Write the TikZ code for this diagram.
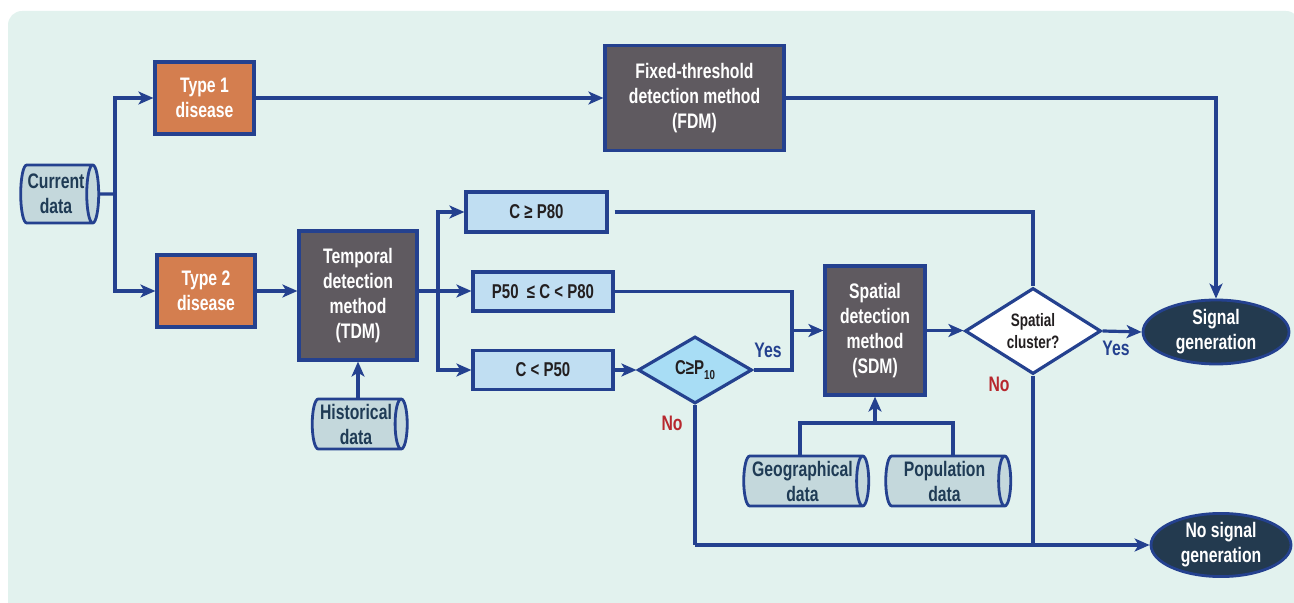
\documentclass[tikz,border=0pt]{standalone}
\usepackage{fontspec}
\setmainfont{Liberation Sans}[FakeStretch=0.75]
\usetikzlibrary{shapes.geometric,arrows.meta}
\definecolor{panel}{HTML}{E2F2EE}
\definecolor{navy}{HTML}{24418F}
\definecolor{orangebox}{HTML}{D47E4F}
\definecolor{greybox}{HTML}{5F5A60}
\definecolor{lightbox}{HTML}{C0DEF2}
\definecolor{dfill}{HTML}{A8DDF5}
\definecolor{cylfill}{HTML}{C4D8DC}
\definecolor{cyltext}{HTML}{1F3B55}
\definecolor{ellfill}{HTML}{233A4F}
\definecolor{notext}{HTML}{B7282E}
\definecolor{darktext}{HTML}{231F20}
\begin{document}
\begin{tikzpicture}[x=0.5pt,y=-0.5pt,
  every node/.style={font=\bfseries\fontsize{10.5}{12.5}\selectfont, inner sep=0pt, align=center},
  conn/.style={draw=navy, line width=1.6pt},
  arr/.style={conn, -{Stealth[length=7.5pt,width=6.5pt,inset=2pt]}},
  obox/.style={rectangle, draw=navy, line width=1.6pt, fill=orangebox, text=white},
  gbox/.style={rectangle, draw=navy, line width=1.6pt, fill=greybox, text=white},
  lbox/.style={rectangle, draw=navy, line width=1.6pt, fill=lightbox, text=darktext, font=\bfseries\fontsize{10}{12}\selectfont},
  cyl/.style={cylinder, shape border rotate=0, shape aspect=0.3, draw=navy, line width=1.4pt, fill=cylfill, text=cyltext},
  dia/.style={diamond, draw=navy, line width=1.6pt, text=darktext},
  ell/.style={ellipse, draw=navy, line width=1.4pt, fill=ellfill, text=white},
  yeslbl/.style={text=navy},
  nolbl/.style={text=notext}
]
\useasboundingbox (0,0) rectangle (1294,603);
\fill[panel] (8,610) {[rounded corners=7pt] -- (8,11) -- (1300,11)} -- (1300,610) -- cycle;

% nodes
\node[cyl, minimum height=39pt, minimum width=29pt] (cur) at (56,194) {Current\\data};
\node[obox, minimum width=49.5pt, minimum height=36pt] (t1) at (204.5,98) {Type 1\\disease};
\node[obox, minimum width=49pt, minimum height=36pt] (t2) at (206,291) {Type 2\\disease};
\node[gbox, minimum width=89.5pt, minimum height=52.5pt] (fdm) at (694.5,98) {Fixed-threshold\\detection method\\(FDM)};
\node[gbox, minimum width=59pt, minimum height=64.5pt] (tdm) at (358,295.5) {Temporal\\detection\\method\\(TDM)};
\node[cyl, minimum height=47.5pt, minimum width=25pt] (hist) at (356,424) {Historical\\data};
\node[lbox, minimum width=70.5pt, minimum height=20pt] (p80) at (536.5,212) {C ≥ P80};
\node[lbox, minimum width=70pt, minimum height=19.5pt] (p50) at (543,291.5) {P50 \ ≤ C < P80};
\node[lbox, minimum width=70pt, minimum height=19.5pt] (lt50) at (543,370) {C < P50};
\node[dia, fill=dfill, aspect=1.7, minimum width=57pt, minimum height=33.5pt, font=\bfseries\fontsize{10}{12}\selectfont] (d10) at (695,370) {C≥P\raisebox{-2.5pt}{\fontsize{6.5}{7}\selectfont 10}};
\node[gbox, minimum width=50pt, minimum height=64.5pt] (sdm) at (875,330.5) {Spatial\\detection\\method\\(SDM)};
\node[cyl, minimum height=62.5pt, minimum width=25pt] (geo) at (802.5,481) {Geographical\\data};
\node[cyl, minimum height=62.5pt, minimum width=25pt] (pop) at (944.5,481) {Population\\data};
\node[dia, fill=white, aspect=1.58, minimum width=68pt, minimum height=43pt, font=\bfseries\fontsize{9}{11}\selectfont] (sc) at (1033,331) {Spatial\\cluster?};
\node[ell, minimum width=73pt, minimum height=32pt] (sig) at (1216,332) {Signal\\generation};
\node[ell, minimum width=70pt, minimum height=31pt] (nosig) at (1221,545) {No signal\\generation};

\node[yeslbl] (y1) at (768,350) {Yes};
\node[nolbl] (n1) at (672,423) {No};
\node[yeslbl] (y2) at (1116,348) {Yes};
\node[nolbl] (n2) at (999,384) {No};

% connectors
\coordinate (j1) at (115,194);
\draw[conn] (cur.east) -- (j1);
\draw[arr] (j1) |- (t1.west);
\draw[arr] (j1) |- (t2.west);
\draw[arr] (t1.east) -- (fdm.west);
\draw[arr] (fdm.east) -| (sig.north);
\draw[arr] (t2.east) -- (t2.east -| tdm.west);
\coordinate (j2) at (438,291);
\draw[conn] (tdm.east |- j2) -- (j2);
\draw[arr] (j2) |- (p80.west);
\draw[arr] (j2) -- (j2 -| p50.west);
\draw[arr] (j2) |- (lt50.west);
\draw[arr] (hist.north -| tdm.south) -- (tdm.south);
\draw[conn] ([xshift=3pt]p80.east) -| (sc.north);
\coordinate (j3) at (792,330.5);
\draw[conn] (p50.east) -| (j3);
\draw[conn] (d10.east) -| (j3);
\draw[arr] (j3) -- (sdm.west);
\draw[arr] (lt50.east) -- (d10.west);
\draw[arr] (sdm.east) -- (sdm.east -| sc.west);
\draw[arr] (sc.east) -- (sig.west);
\coordinate (j4) at (695,545);
\draw[conn] (d10.south) -- (j4);
\draw[arr] (j4) -- (nosig.west);
\draw[conn] (sc.south) -- (sc.south |- j4);
\coordinate (b1) at (800,423);
\coordinate (b2) at (953,423);
\draw[conn] (b1 |- geo.north) -- (b1) -- (b2) -- (b2 |- pop.north);
\draw[arr] (sdm.south |- b1) -- (sdm.south);
\end{tikzpicture}
\end{document}
